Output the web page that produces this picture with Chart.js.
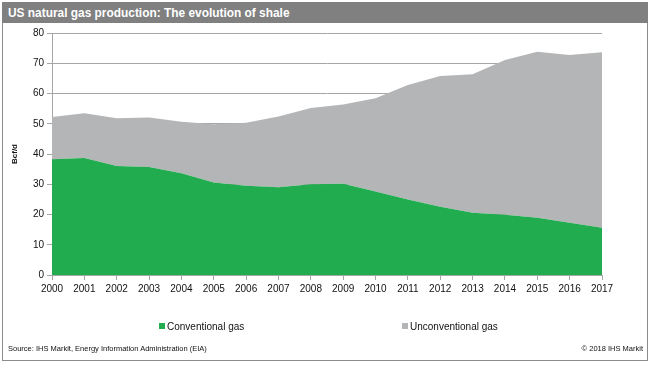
<!DOCTYPE html>
<html>
<head>
<meta charset="utf-8">
<script src="https://cdn.jsdelivr.net/npm/chart.js@4.4.1/dist/chart.umd.min.js"></script>
<style>
  html, body { margin: 0; padding: 0; background: #fff; }
  body { width: 650px; height: 365px; position: relative; overflow: hidden; font-family: "Liberation Sans", Arial, sans-serif; }
  #frame { position: absolute; left: 2px; top: 2px; width: 644px; height: 357px; border: 1px solid #8c8c8c; }
  #title { position: absolute; left: 2px; top: 2px; width: 646px; height: 21px; background: #808080; color: #fff;
           font: bold 13px "Liberation Sans", Arial, sans-serif; line-height: 21px; }
  #title span { display: inline-block; margin-left: 6px; transform: scaleX(0.915); transform-origin: left center; white-space: nowrap; }
  #chart { position: absolute; left: 0; top: 0; }
  .leg { position: absolute; top: 321px; font-size: 10px; color: #111; white-space: nowrap; }
  .leg i { display: inline-block; width: 6px; height: 6px; margin-right: 2px; vertical-align: 1px; }
  .note { position: absolute; top: 344px; font-size: 7.5px; color: #111; white-space: nowrap; }
</style>
</head>
<body>
<div id="frame"></div>
<div id="title"><span>US natural gas production: The evolution of shale</span></div>
<canvas id="chart" width="650" height="365"></canvas>
<div class="leg" style="left:159px"><i style="background:#21ad4f"></i>Conventional gas</div>
<div class="leg" style="left:402px"><i style="background:#b3b5b7"></i>Unconventional gas</div>
<div class="note" style="left:8px">Source: IHS Markit, Energy Information Administration (EIA)</div>
<div class="note" style="right:7px">© 2018 IHS Markit</div>
<script>
// Years on the x axis
const years = ["2000", "2001", "2002", "2003", "2004", "2005", "2006", "2007", "2008",
               "2009", "2010", "2011", "2012", "2013", "2014", "2015", "2016", "2017"];

// Bcf/d
const conventionalGas = [38.3, 38.7, 36.0, 35.7, 33.6, 30.6, 29.5, 29.0, 30.0,
                         30.2, 27.6, 25.0, 22.6, 20.6, 19.9, 18.9, 17.3, 15.6];
const unconventionalGas = [13.9, 14.8, 15.8, 16.4, 17.1, 19.2, 20.8, 23.4, 25.2,
                           26.2, 30.8, 37.8, 43.2, 45.8, 51.2, 54.9, 55.4, 58.0];

const yTicks = [0, 10, 20, 30, 40, 50, 60, 70, 80];

const axisGray = "#a6a6a6";

const ctx = document.getElementById("chart").getContext("2d");
new Chart(ctx, {
    type: "line",
    data: {
        labels: years,
        datasets: [
            {
                label: "Conventional gas",
                data: conventionalGas,
                backgroundColor: "#21ad4f",
                borderWidth: 0,
                pointRadius: 0,
                fill: "origin",
                tension: 0
            },
            {
                label: "Unconventional gas",
                data: unconventionalGas,
                backgroundColor: "#b3b5b7",
                borderWidth: 0,
                pointRadius: 0,
                fill: "-1",
                tension: 0
            }
        ]
    },
    options: {
        responsive: false,
        animation: false,
        devicePixelRatio: 1,
        layout: { padding: { left: 8, top: 33, right: 48, bottom: 70 } },
        plugins: {
            legend: { display: false },
            tooltip: { enabled: false }
        },
        scales: {
            x: {
                offset: false,
                grid: { drawOnChartArea: false, drawTicks: true, tickLength: 5, color: axisGray },
                border: { color: axisGray },
                ticks: { color: "#111", font: { family: "Liberation Sans", size: 10 }, padding: 3, maxRotation: 0, autoSkip: false },
                afterFit: function (scale) { scale.height = 20; }
            },
            y: {
                stacked: true,
                min: 0,
                max: 80,
                afterBuildTicks: function (scale) { scale.ticks = yTicks.map(v => ({ value: v })); },
                grid: { color: axisGray, tickLength: 5 },
                border: { color: axisGray },
                ticks: { color: "#111", font: { family: "Liberation Sans", size: 10 }, padding: 3 },
                title: { display: true, text: "Bcf/d", color: "#111", font: { family: "Liberation Sans", size: 8, weight: "bold" }, padding: { top: 2, bottom: 0 } },
                afterFit: function (scale) { scale.width = 44; }
            }
        }
    }
});
</script>
</body>
</html>
